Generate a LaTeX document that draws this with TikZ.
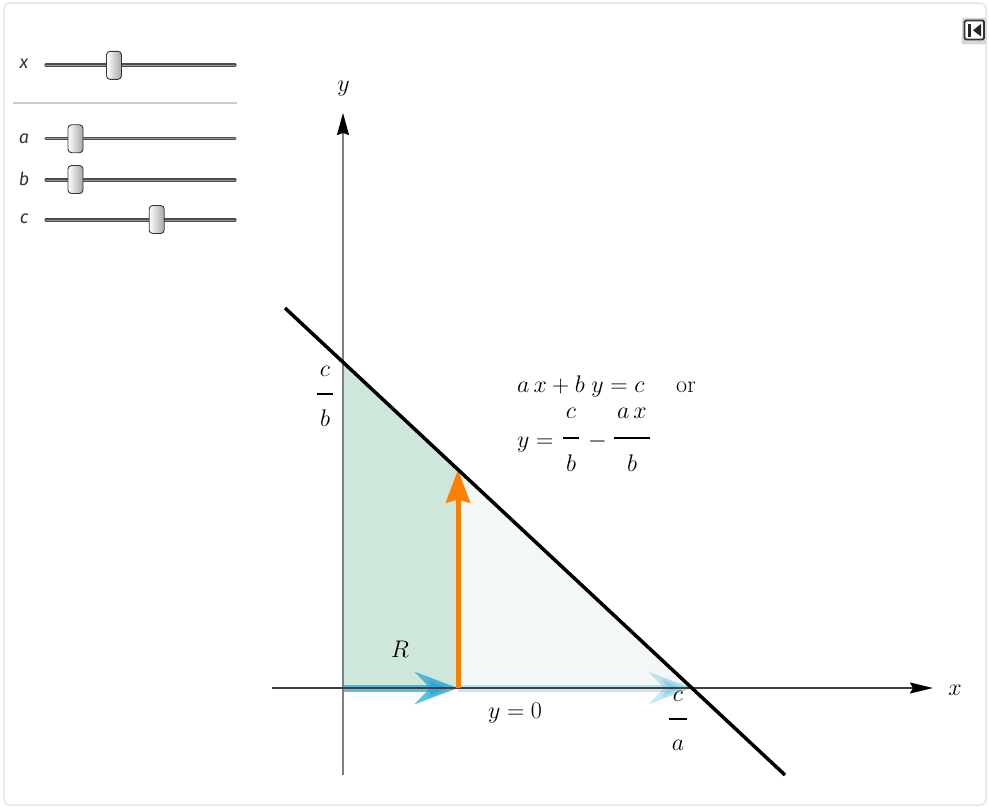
\RequirePackage{fix-cm}
\documentclass[tikz,border=0pt]{standalone}
\usepackage{fontspec}
\newfontfamily\uifont{Fira Sans}
\usetikzlibrary{arrows.meta}
\definecolor{gfill}{HTML}{CDE8DA}
\definecolor{lfill}{HTML}{F3F7F5}
\definecolor{blu}{HTML}{22A4D8}
\definecolor{org}{HTML}{FF8000}
\begin{document}
\begin{tikzpicture}[x=1pt,y=-1pt,
  lbl/.style={font=\fontsize{24}{28}\selectfont, inner sep=0pt},
  ui/.style={font=\uifont\itshape\fontsize{18}{20}\selectfont, text=black!80, inner sep=0pt},
  track/.style={line width=3.2pt, draw=black!70, line cap=round},
  trackhi/.style={line width=1pt, draw=black!40, line cap=round},
  thumb/.style={draw=black!80, line width=0.9pt, rounded corners=3.5pt, left color=white, right color=black!35, minimum width=15pt, minimum height=28pt, inner sep=0pt},
  fracbar/.style={line width=1.1pt},
  vecarrow/.style={blu, line width=7pt, -{Stealth[length=43pt,width=32pt,inset=15pt]}}]
\useasboundingbox (0,0) rectangle (989,807);
% frame
\draw[black!10, line width=1.5pt, rounded corners=6pt] (4,3) rectangle (986,805);
% sliders
\node[ui, anchor=base] (lx) at (24,68) {x};
\node[ui, anchor=base] (la) at (24,143) {a};
\node[ui, anchor=base] (lb) at (24,185) {b};
\node[ui, anchor=base] (lc) at (24,223) {c};
\coordinate (sx1) at (46,65); \coordinate (sx2) at (235,65);
\coordinate (sa1) at (46,138.5); \coordinate (sa2) at (235,138.5);
\coordinate (sb1) at (46,180); \coordinate (sb2) at (235,180);
\coordinate (sc1) at (46,220); \coordinate (sc2) at (235,220);
\foreach \p in {x,a,b,c}{
  \draw[track] (s\p1) -- (s\p2);
  \draw[trackhi] (s\p1) -- (s\p2);
}
\node[thumb] (tx) at (114,65.3) {};
\node[thumb] (ta) at (75.5,138.7) {};
\node[thumb] (tb) at (75.5,179.5) {};
\node[thumb] (tc) at (156.7,219.5) {};
\draw[black!20, line width=1.4pt] (13,103) -- (237,103);
% button
\draw[fill=black!15, draw=black!25, rounded corners=2pt] (962,18) rectangle (986,44);
\draw[fill=white, draw=black!80, line width=1.8pt, rounded corners=1.5pt] (964.5,20.5) rectangle (984,39.5);
\fill[black!85] (968,24) rectangle (971,36.5);
\fill[black!85] (981,24) -- (981,36.5) -- (973,30.25) -- cycle;
% plot points
\coordinate (O) at (343,688);
\coordinate (B) at (343,362);
\coordinate (P) at (458,469.6);
\coordinate (Q) at (458,688);
\coordinate (A) at (692,688);
\coordinate (L1) at (285,308);
\coordinate (L2) at (785,775);
\coordinate (ya0) at (343,775);
\coordinate (ya1) at (343,113);
\coordinate (xa0) at (272,688);
\coordinate (xa1) at (933,688);
% regions
\fill[gfill] (O) -- (B) -- (P) -- (Q) -- cycle;
\fill[lfill] (Q) -- (P) -- (A) -- cycle;
% blue arrows
\draw[vecarrow, opacity=0.25] (Q) -- (A);
\fill[blu, opacity=0.15] (A) -- ++(-30,-10) -- ++(8,10) -- ++(-8,10) -- cycle;
\draw[vecarrow, opacity=0.72] (O) -- (Q);
\fill[blu, opacity=0.3] (Q) -- ++(-30,-10) -- ++(8,10) -- ++(-8,10) -- cycle;
% axes
\draw[black!50, line width=1.4pt, -{Stealth[length=22pt,width=12pt,inset=2pt,color=black]}] (ya0) -- (ya1);
\draw[black!75, line width=1.4pt, -{Stealth[length=23pt,width=11pt,inset=3pt,color=black]}] (xa0) -- (xa1);
% orange arrow
\draw[org, line width=5pt, -{Stealth[length=33pt,width=24pt,inset=3pt]}] (Q) -- (P);
% line
\draw[line width=3.5pt] (L1) -- (L2);
% labels
\node[lbl] (ylab) at (343.5,88.5) {$y$};
\node[lbl] (xlab) at (955,690) {$x$};
\node[lbl] (cbn) at (325,371.5) {$c$};
\draw[fracbar] (317,394) -- (333,394);
\node[lbl] (cbd) at (325,418) {$b$};
\node[lbl] (R) at (400,649) {$R$};
\node[lbl, anchor=base] (y0) at (515,718) {$y=0$};
\node[lbl] (can) at (678,696) {$c$};
\draw[fracbar] (669,719) -- (687,719);
\node[lbl] (cad) at (678,745) {$a$};
\node[lbl, anchor=base west] (eq1) at (517,392) {$a\,x+b\;y=c$};
\node[lbl, anchor=base] (or) at (686,392) {or};
\node[lbl, anchor=base west] (eq2) at (517,447) {$y=$};
\node[lbl] (f1n) at (571,413) {$c$};
\draw[fracbar] (563,438) -- (579,438);
\node[lbl] (f1d) at (571,463) {$b$};
\node[lbl, anchor=base] (minus) at (597.5,447) {$-$};
\node[lbl] (f2n) at (632,413) {$a\,x$};
\draw[fracbar] (614,438) -- (650,438);
\node[lbl] (f2d) at (632,463) {$b$};
\end{tikzpicture}
\end{document}
